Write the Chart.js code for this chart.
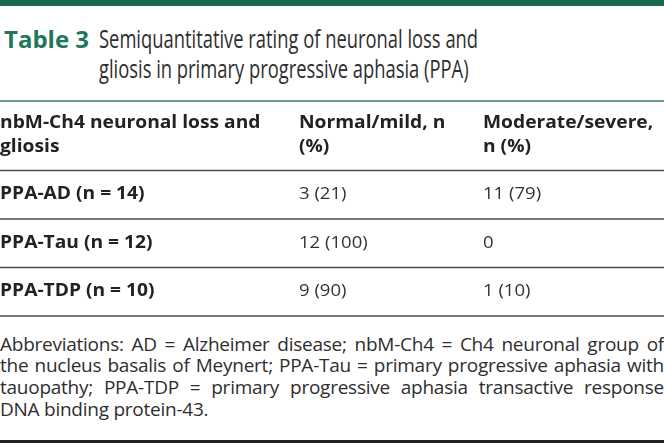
<!DOCTYPE html>
<html>
<head>
<meta charset="utf-8">
<script src="https://cdn.jsdelivr.net/npm/chart.js@4/dist/chart.umd.min.js"></script>
<style>
  html, body { margin: 0; padding: 0; background: #fff; }
  body { width: 664px; height: 443px; position: relative; overflow: hidden; font-family: "Open Sans", sans-serif; color: #2b2b2b; }
  #topbar { position: absolute; left: 0; top: 0; width: 664px; height: 6px; background: #1b6a4c; }
  #title { position: absolute; left: 0; top: 23px; width: 664px; font-size: 25.5px; line-height: 30px; }
  #title .lab { position: absolute; left: 4px; top: 1px; font-size: 24px; font-weight: 700; color: #21775a; white-space: nowrap; }
  #title .txt { position: absolute; left: 99px; top: 0; white-space: nowrap; transform: scaleX(0.72); transform-origin: left top; color: #2e2e2e; }
  #titleRule { position: absolute; left: 0; top: 100px; width: 664px; height: 2px; background: #6f9a8c; }
  #chartWrap { position: absolute; left: 0; top: 100px; width: 664px; height: 220px; }
  #foot { position: absolute; left: 0; top: 333.5px; width: 664px; font-size: 19px; line-height: 21.7px; color: #2e2e2e; letter-spacing: -0.25px; }
  #foot div { text-align: justify; text-align-last: justify; white-space: nowrap; }
  #foot div.last { text-align-last: left; }
  #bottomRule { position: absolute; left: 0; top: 440px; width: 664px; height: 3px; background: #222; }
</style>
</head>
<body>
<div id="topbar"></div>
<div id="title"><span class="lab" id="tabLabel"></span><span class="txt" id="tabTitle"></span></div>
<div id="titleRule"></div>
<div id="chartWrap"><canvas id="c" width="664" height="220"></canvas></div>
<div id="foot"></div>
<div id="bottomRule"></div>
<script>
// ---- data ----
const tableLabel = 'Table 3';
const titleLines = ['Semiquantitative rating of neuronal loss and', 'gliosis in primary progressive aphasia (PPA)'];
const headerCol1 = ['nbM-Ch4 neuronal loss and', 'gliosis'];
const headerCol2 = ['Normal/mild, n', '(%)'];
const headerCol3 = ['Moderate/severe,', 'n (%)'];
const groups = ['PPA-AD (n = 14)', 'PPA-Tau (n = 12)', 'PPA-TDP (n = 10)'];
const normalMildN = [3, 12, 9];
const normalMildPct = [21, 100, 90];
const moderateSevereN = [11, 0, 1];
const moderateSeverePct = [79, null, 10];
const footLines = [
  'Abbreviations: AD = Alzheimer disease; nbM-Ch4 = Ch4 neuronal group of',
  'the nucleus basalis of Meynert; PPA-Tau = primary progressive aphasia with',
  'tauopathy; PPA-TDP = primary progressive aphasia transactive response',
  'DNA binding protein-43.'
];

// ---- title / footnote text ----
document.getElementById('tabLabel').textContent = tableLabel;
const tt = document.getElementById('tabTitle');
titleLines.forEach((l, i) => { if (i) tt.appendChild(document.createElement('br')); tt.appendChild(document.createTextNode(l)); });
const foot = document.getElementById('foot');
footLines.forEach((l, i) => {
  const d = document.createElement('div');
  d.textContent = l;
  if (i === footLines.length - 1) d.className = 'last';
  foot.appendChild(d);
});

function fmt(n, p) { return (p === null || p === undefined) ? String(n) : n + ' (' + p + ')'; }

const rowKeys = ['header'].concat(groups);
const cells = [[headerCol1, headerCol2, headerCol3]].concat(
  groups.map((g, i) => [[g], [fmt(normalMildN[i], normalMildPct[i])], [fmt(moderateSevereN[i], moderateSeverePct[i])]])
);

const colX = [0, 299, 483];

const tablePlugin = {
  id: 'tablePlugin',
  afterDraw(chart) {
    const ctx = chart.ctx;
    const y = chart.scales.y;
    const n = rowKeys.length;
    const band = (y.bottom - y.top) / n;
    ctx.save();
    ctx.strokeStyle = '#4d4d4d';
    ctx.lineWidth = 1.6;
    for (let i = 0; i < n; i++) {
      const yy = y.getPixelForValue(i) + band / 2;
      ctx.beginPath();
      ctx.moveTo(chart.chartArea.left, yy);
      ctx.lineTo(chart.chartArea.right, yy);
      ctx.stroke();
    }
    ctx.textBaseline = 'alphabetic';
    ctx.textAlign = 'left';
    for (let r = 0; r < n; r++) {
      const cy = y.getPixelForValue(r);
      for (let c = 0; c < 3; c++) {
        const lines = cells[r][c];
        const bold = (r === 0) || (c === 0);
        ctx.font = (bold ? '700 ' : '400 ') + '17px "Open Sans"';
        ctx.fillStyle = bold ? '#222' : '#333';
        const sx = bold ? 1.13 : 1.09;
        const drawAt = (t, yy) => {
          ctx.save();
          ctx.translate(colX[c], yy);
          ctx.scale(sx, 1);
          ctx.fillText(t, 0, 0);
          ctx.restore();
        };
        if (r === 0) {
          lines.forEach((t, k) => drawAt(t, cy - 18 + k * 23.5));
        } else {
          drawAt(lines[0], cy + 4.5);
        }
      }
    }
    ctx.restore();
  }
};

new Chart(document.getElementById('c'), {
  type: 'bar',
  data: { labels: rowKeys, datasets: [{ data: rowKeys.map(() => null) }] },
  options: {
    responsive: false,
    animation: false,
    events: [],
    indexAxis: 'y',
    layout: { padding: { top: 22, bottom: 4, left: 0, right: 0 } },
    plugins: { legend: { display: false }, tooltip: { enabled: false } },
    scales: {
      x: { display: false, min: 0, max: 1 },
      y: { display: false, type: 'category', offset: true }
    }
  },
  plugins: [tablePlugin]
});
</script>
</body>
</html>
